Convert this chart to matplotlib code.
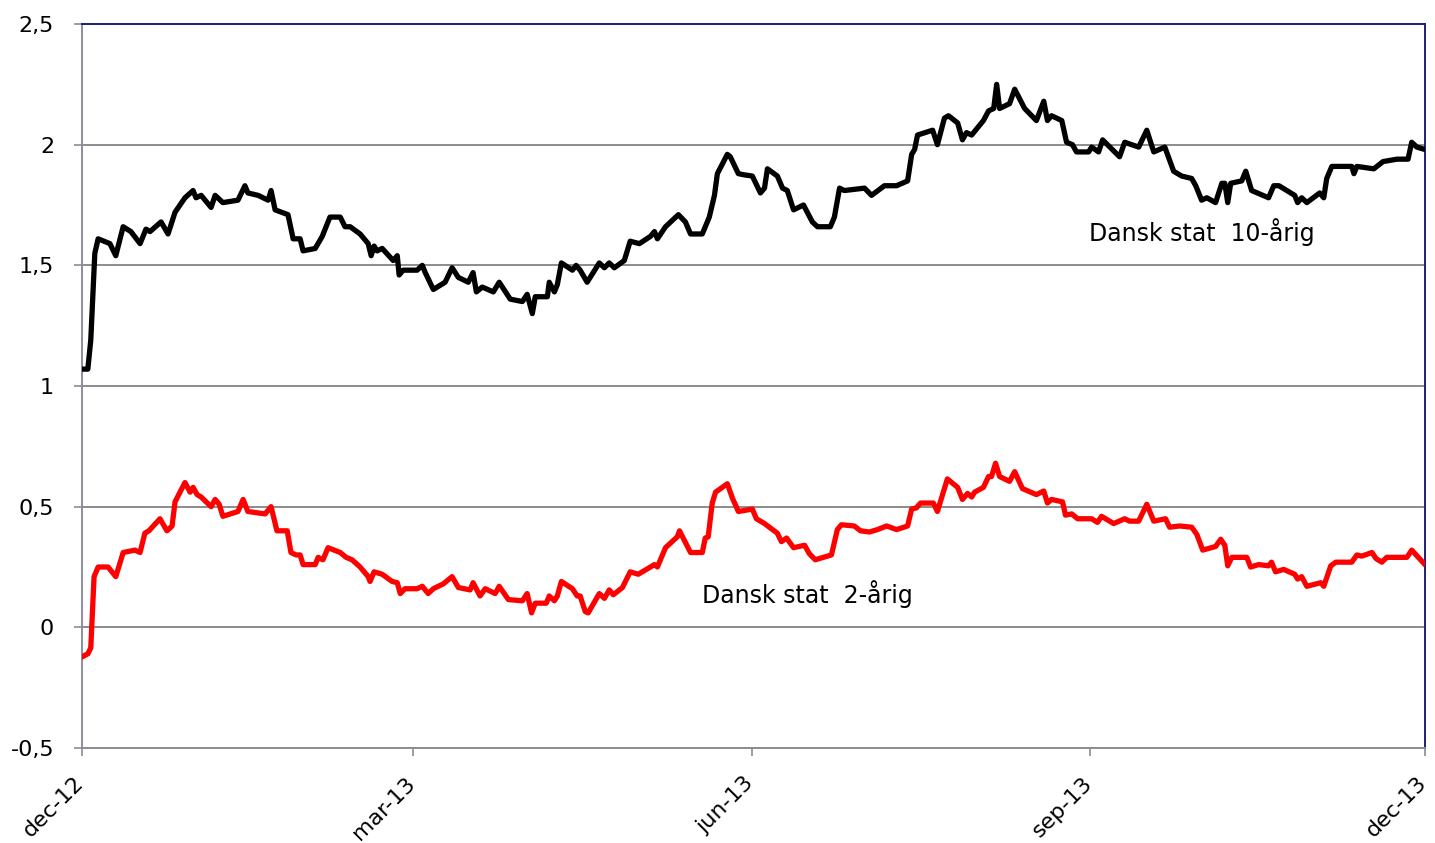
import pandas as pd
import matplotlib
matplotlib.use("Agg")
import matplotlib.pyplot as plt
import matplotlib.transforms as mtransforms
from matplotlib.ticker import FuncFormatter

# start of the period, offsets below are days from this date
start = pd.Timestamp("2012-12-01")

# Dansk stat 10-årig
days_10y = [
    0.3, 1.6, 2.4, 3.5, 4.4, 7.6, 9.2, 11.2, 13.3, 15.8, 17.4, 18.5, 21.5, 23.4,
    25.3, 28.0, 30.2, 31.0, 32.4, 35.1, 36.2, 38.3, 42.4, 44.3, 45.1, 47.9, 50.6,
    51.4, 52.5, 56.0, 57.4, 59.3, 60.1, 63.4, 65.3, 67.4, 70.2, 71.5, 72.9, 75.6,
    77.8, 78.6, 79.4, 80.2, 81.6, 84.6, 85.7, 86.2, 87.3, 91.1, 92.5, 93.3, 95.5,
    98.7, 100.6, 102.3, 105.0, 106.3, 107.2, 108.8, 111.8, 113.4, 116.4, 119.7,
    121.0, 122.4, 123.2, 126.5, 127.0, 128.4, 129.2, 130.3, 133.3, 134.3, 135.4,
    137.3, 140.6, 142.0, 143.3, 144.7, 147.4, 149.0, 151.5, 154.5, 155.6, 156.4,
    158.6, 162.1, 164.0, 165.4, 168.6, 170.5, 171.9, 172.7, 175.4, 176.2, 178.4,
    180.0, 182.2, 184.4, 185.5, 186.3, 189.0, 190.4, 191.7, 193.4, 196.1, 198.5,
    199.9, 203.4, 204.5, 205.9, 207.2, 212.7, 214.6, 218.1, 221.4, 224.4, 225.5,
    226.3, 227.1, 231.2, 232.5, 234.4, 235.5, 238.0, 239.3, 240.4, 241.8, 245.0,
    246.4, 247.8, 248.6, 249.4, 252.1, 253.5, 256.2, 259.4, 261.4, 262.4, 263.5,
    266.3, 267.6, 269.2, 270.3, 273.6, 274.4, 276.3, 277.4, 282.0, 283.4, 287.2,
    289.4, 291.3, 294.3, 296.7, 298.9, 301.6, 302.7, 304.3, 305.7, 308.1, 309.8,
    310.6, 311.4, 312.2, 315.2, 316.3, 317.9, 322.5, 323.9, 325.3, 329.6, 330.4,
    331.5, 332.9, 336.4, 337.5, 338.3, 339.7, 345.1, 345.7, 346.5, 351.1, 353.6,
    357.4, 360.4, 361.4, 362.8, 365.0,
]
yield_10y = [
    1.07, 1.07, 1.19, 1.55, 1.61, 1.59, 1.54, 1.66, 1.64, 1.59, 1.65, 1.64, 1.68, 1.63,
    1.72, 1.78, 1.81, 1.78, 1.79, 1.74, 1.79, 1.76, 1.77, 1.83, 1.80, 1.79, 1.77,
    1.81, 1.73, 1.71, 1.61, 1.61, 1.56, 1.57, 1.62, 1.70, 1.70, 1.66, 1.66, 1.63,
    1.59, 1.54, 1.58, 1.56, 1.57, 1.52, 1.54, 1.46, 1.48, 1.48, 1.50, 1.47, 1.40,
    1.43, 1.49, 1.45, 1.43, 1.47, 1.39, 1.41, 1.39, 1.43, 1.36, 1.35,
    1.38, 1.30, 1.37, 1.37, 1.43, 1.39, 1.42, 1.51, 1.48, 1.50, 1.48,
    1.43, 1.51, 1.49, 1.51, 1.49, 1.52, 1.60, 1.59, 1.62, 1.64, 1.61,
    1.66, 1.71, 1.68, 1.63, 1.63, 1.70, 1.79, 1.88, 1.96, 1.95, 1.88,
    1.875, 1.87, 1.80, 1.82, 1.90, 1.87, 1.82, 1.81, 1.73, 1.75, 1.68,
    1.66, 1.66, 1.70, 1.82, 1.81, 1.82, 1.79, 1.83, 1.83, 1.85, 1.96,
    1.98, 2.04, 2.06, 2.00, 2.11, 2.12, 2.09, 2.02, 2.05, 2.04, 2.10,
    2.14, 2.15, 2.25, 2.15, 2.17, 2.23, 2.15, 2.10, 2.18, 2.10, 2.12,
    2.10, 2.01, 2.00, 1.97, 1.97, 1.99, 1.97, 2.02, 1.95, 2.01, 1.99,
    2.06, 1.97, 1.99, 1.89, 1.87, 1.86, 1.83, 1.77, 1.78, 1.76, 1.84,
    1.84, 1.76, 1.84, 1.85, 1.89, 1.81, 1.78, 1.83, 1.83, 1.79, 1.76,
    1.78, 1.76, 1.80, 1.78, 1.86, 1.91, 1.91, 1.88, 1.91, 1.90, 1.93,
    1.94, 1.94, 2.01, 1.99, 1.98,
]

# Dansk stat 2-årig
days_2y = [
    0.3, 1.6, 2.4, 3.3, 4.4, 7.1, 9.2, 11.2, 14.4, 15.8, 17.1, 18.2, 21.2, 23.1,
    24.5, 25.3, 28.0, 29.4, 30.2, 31.3, 32.4, 35.1, 36.2, 37.3, 38.3, 42.4, 43.8,
    45.1, 49.8, 51.4, 53.0, 55.8, 56.8, 58.2, 59.3, 60.1, 63.4, 64.2, 65.5, 66.9,
    70.2, 71.8, 73.4, 75.6, 77.8, 78.3, 79.4, 81.6, 84.3, 85.7, 86.5, 87.8, 91.1,
    92.5, 94.1, 95.5, 98.2, 100.6, 102.3, 105.5, 106.3, 108.2, 109.6, 112.3, 113.4,
    115.9, 119.7, 121.0, 122.2, 123.2, 126.2, 127.0, 128.4, 129.2, 130.3, 133.3,
    134.6, 135.4, 136.8, 137.6, 140.6, 142.0, 143.3, 144.4, 146.9, 149.0, 151.2,
    154.5, 155.6, 156.4, 158.6, 161.8, 162.4, 165.4, 168.6, 169.4, 170.2, 171.3,
    172.2, 175.4, 176.8, 178.4, 182.2, 183.3, 185.5, 189.0, 190.1, 191.5, 193.4,
    196.4, 197.7, 199.3, 203.7, 205.3, 206.4, 209.9, 211.6, 214.0, 216.2, 218.7,
    221.4, 224.4, 225.5, 226.8, 227.9, 231.4, 232.5, 235.2, 238.0, 239.3, 240.7,
    241.8, 242.6, 245.0, 246.4, 247.2, 248.3, 249.4, 252.1, 253.5, 255.6, 259.4,
    261.4, 262.4, 263.5, 266.5, 267.3, 269.0, 270.6, 274.4, 276.0, 277.1, 280.4,
    283.4, 284.7, 287.2, 289.4, 291.3, 294.5, 295.6, 298.3, 301.6, 303.0, 304.6,
    308.1, 309.5, 310.6, 311.4, 312.5, 316.6, 317.6, 319.8, 322.5, 323.3, 324.4,
    326.6, 329.6, 330.4, 331.5, 332.9, 336.7, 337.5, 339.4, 340.8, 345.1, 346.5,
    347.8, 350.6, 351.7, 353.3, 354.6, 360.1, 361.4, 364.7,
]
yield_2y = [
    -0.12, -0.11, -0.085, 0.21, 0.25, 0.25, 0.21, 0.31, 0.32, 0.31, 0.39, 0.40, 0.45, 0.40,
    0.42, 0.52, 0.60, 0.56, 0.58, 0.55, 0.54, 0.50, 0.53, 0.51, 0.46, 0.48, 0.53,
    0.48, 0.47, 0.50, 0.40, 0.40, 0.31, 0.30, 0.30, 0.26, 0.26, 0.29, 0.28, 0.33,
    0.31, 0.29, 0.28, 0.25, 0.21, 0.19, 0.23, 0.22, 0.19, 0.185, 0.14, 0.16, 0.16,
    0.17, 0.14, 0.16, 0.18, 0.21, 0.165, 0.155, 0.185, 0.13, 0.16, 0.14, 0.17,
    0.115, 0.11, 0.14, 0.06, 0.10, 0.10, 0.13, 0.11, 0.13, 0.19, 0.16,
    0.13, 0.13, 0.065, 0.06, 0.14, 0.12, 0.155, 0.135, 0.165, 0.23, 0.22,
    0.25, 0.26, 0.25, 0.33, 0.375, 0.40, 0.31, 0.31, 0.37, 0.375, 0.515,
    0.56, 0.595, 0.535, 0.48, 0.49, 0.45, 0.43, 0.39, 0.355, 0.37, 0.33,
    0.34, 0.305, 0.28, 0.30, 0.405, 0.425, 0.42, 0.40, 0.395, 0.405, 0.42,
    0.405, 0.42, 0.49, 0.495, 0.515, 0.515, 0.48, 0.615, 0.58, 0.53, 0.555,
    0.54, 0.56, 0.58, 0.625, 0.625, 0.68, 0.625, 0.605, 0.645, 0.575, 0.55,
    0.565, 0.515, 0.53, 0.52, 0.465, 0.47, 0.45, 0.45, 0.435, 0.46, 0.43,
    0.45, 0.44, 0.44, 0.51, 0.44, 0.45, 0.415, 0.42, 0.415, 0.385, 0.32,
    0.335, 0.365, 0.34, 0.255, 0.29, 0.29, 0.25, 0.26, 0.255, 0.27, 0.23,
    0.24, 0.22, 0.20, 0.21, 0.17, 0.185, 0.17, 0.255, 0.27, 0.27, 0.30,
    0.295, 0.31, 0.285, 0.27, 0.29, 0.29, 0.32, 0.265,
]

tick_dates = ["2012-12-01", "2013-03-01", "2013-06-01", "2013-09-01", "2013-12-01"]
tick_labels = ["dec-12", "mar-13", "jun-13", "sep-13", "dec-13"]
y_ticks = [-0.5, 0, 0.5, 1, 1.5, 2, 2.5]

dates_10y = start + pd.to_timedelta(days_10y, unit="D")
dates_2y = start + pd.to_timedelta(days_2y, unit="D")

fig = plt.figure(figsize=(14.35, 8.43), dpi=100)
ax = fig.add_axes([0.0571, 0.1127, 0.9359, 0.8588])

ax.plot(dates_10y, yield_10y, color="black", lw=3.8, solid_joinstyle="round", zorder=3)
ax.plot(dates_2y, yield_2y, color="#ff0000", lw=3.8, solid_joinstyle="round", zorder=3)

ax.set_xlim(pd.Timestamp(tick_dates[0]), pd.Timestamp(tick_dates[-1]))
ax.set_ylim(-0.5, 2.5)
ax.set_yticks(y_ticks)
ax.yaxis.set_major_formatter(FuncFormatter(lambda v, p: f"{v:g}".replace(".", ",")))
ax.grid(axis="y", color="#8c8c8c", lw=1.4)
ax.set_axisbelow(True)

ax.set_xticks(pd.to_datetime(tick_dates))
ax.set_xticklabels(tick_labels, rotation=45, ha="right", rotation_mode="anchor")

ax.tick_params(axis="both", labelsize=16, length=6, width=1.2, color="#8c8c8c")
ax.tick_params(axis="x", pad=12)
ax.tick_params(axis="y", pad=14)

# nudge the rotated date labels a bit to the left, as in the original
shift = mtransforms.ScaledTranslation(-6 / 72, 0, fig.dpi_scale_trans)
for lbl in ax.get_xticklabels():
    lbl.set_transform(lbl.get_transform() + shift)

for side in ["top", "right"]:
    ax.spines[side].set_color("#1f1f7a")
    ax.spines[side].set_linewidth(1.4)
ax.spines["left"].set_color("#8c8c9c")
ax.spines["bottom"].set_color("#8c8c8c")
ax.spines["left"].set_linewidth(1.4)
ax.spines["bottom"].set_linewidth(1.4)

ax.text(start + pd.Timedelta(days=273.6), 1.636, "Dansk stat  10-årig",
        fontsize=17, va="center", ha="left")
ax.text(start + pd.Timedelta(days=168.6), 0.14, "Dansk stat  2-årig",
        fontsize=17, va="center", ha="left")

fig.savefig("out.png", dpi=100)
plt.close(fig)
